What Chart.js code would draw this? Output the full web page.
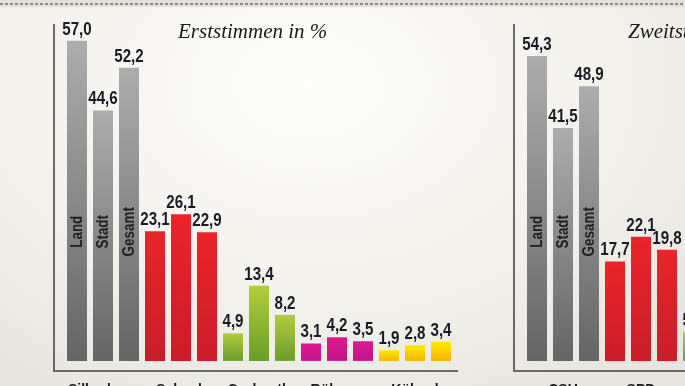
<!DOCTYPE html>
<html>
<head>
<meta charset="utf-8">
<script src="https://cdn.jsdelivr.net/npm/chart.js@4/dist/chart.umd.min.js"></script>
<style>
  html, body { margin: 0; padding: 0; width: 685px; height: 386px; overflow: hidden; }
  body {
    position: relative;
    background: radial-gradient(ellipse 75% 95% at 45% 22%, #fdfdfb 0%, #f3f2ed 55%, #e6e5de 100%);
  }
  #strip {
    position: absolute; left: 0; top: 0; width: 685px; height: 7px;
    background: #e2e0d8;
  }
  #strip div {
    position: absolute; left: 0; top: 3px; width: 685px; height: 2px;
    background: repeating-linear-gradient(90deg, #8d8c86 0 3px, transparent 3px 5px);
  }
  .box { position: absolute; top: 0; width: 470px; height: 400px; }
</style>
</head>
<body>
<div id="strip"><div></div></div>
<div class="box" style="left:0"><canvas id="erstChart"></canvas></div>
<div class="box" style="left:460px"><canvas id="zweitChart"></canvas></div>

<script>
const candidates = ["Silberhorn", "Schenk", "Grubenth", "Rühmer", "Kühnel"];
const parties = ["CSU", "SPD", "Grüne", "Linke", "FDP"];
const areas = ["Land", "Stadt", "Gesamt"];

const erstLand = [57.0, 23.1, 4.9, 3.1, 1.9];
const erstStadt = [44.6, 26.1, 13.4, 4.2, 2.8];
const erstGesamt = [52.2, 22.9, 8.2, 3.5, 3.4];

// right chart is cut off by the picture edge, unreadable values left empty
const zweitLand = [54.3, 17.7, 5.2, null, null];
const zweitStadt = [41.5, 22.1, null, null, null];
const zweitGesamt = [48.9, 19.8, null, null, null];

const partyColors = [
  ["#adadad", "#656565"],
  ["#ea242a", "#c91d29"],
  ["#b2cd3d", "#699d2b"],
  ["#dd1a92", "#c21488"],
  ["#ffe900", "#f6b300"],
];

const sans = "'Liberation Sans', Arial, sans-serif";

function barFill(c) {
  const colors = partyColors[c.dataIndex] || partyColors[0];
  const chart = c.chart;
  const y = chart.scales && chart.scales.y;
  if (c.raw == null || !y || !isFinite(y.getPixelForValue(0))) return colors[0];
  const top = y.getPixelForValue(c.raw);
  const base = y.getPixelForValue(0);
  const g = chart.ctx.createLinearGradient(0, top, 0, base);
  g.addColorStop(0, colors[0]);
  g.addColorStop(1, colors[1]);
  return g;
}

// condensed text: plain bold sans squeezed horizontally
function narrowText(ctx, text, x, y, squeeze) {
  ctx.save();
  ctx.translate(x, y);
  ctx.scale(squeeze, 1);
  ctx.fillText(text, 0, 0);
  ctx.restore();
}

const decorPlugin = {
  id: "decor",
  afterDraw(chart, args, opts) {
    const ctx = chart.ctx;
    const area = chart.chartArea;
    ctx.save();

    // axis lines
    ctx.strokeStyle = "#3c3c3c";
    ctx.lineWidth = 1.5;
    ctx.beginPath();
    ctx.moveTo(area.left - 10, area.top);
    ctx.lineTo(area.left - 10, area.bottom + 1);
    ctx.stroke();
    ctx.strokeStyle = "#6a6a66";
    ctx.lineWidth = 2;
    ctx.beginPath();
    ctx.moveTo(area.left - 10, area.bottom);
    ctx.lineTo(area.right + 4, area.bottom);
    ctx.stroke();

    // title
    ctx.fillStyle = "#1a1a1a";
    ctx.font = "italic 21px 'Liberation Serif', 'DejaVu Serif', serif";
    ctx.textAlign = "left";
    ctx.textBaseline = "alphabetic";
    ctx.fillText(opts.title, opts.titleX, 38);

    // value labels
    ctx.font = "bold 18px " + sans;
    ctx.textAlign = "center";
    ctx.textBaseline = "bottom";
    ctx.fillStyle = "#1b1b26";
    chart.data.datasets.forEach((ds, i) => {
      const meta = chart.getDatasetMeta(i);
      meta.data.forEach((el, j) => {
        const v = ds.data[j];
        if (v == null) return;
        narrowText(ctx, v.toFixed(1).replace(".", ","), el.x, el.y - 2, 0.84);
      });
    });

    // area names inside the first group
    const yMid = chart.scales.y.getPixelForValue(23);
    ctx.font = "bold 16px " + sans;
    ctx.fillStyle = "#202020";
    ctx.textBaseline = "middle";
    chart.data.datasets.forEach((ds, i) => {
      const el = chart.getDatasetMeta(i).data[0];
      ctx.save();
      ctx.translate(el.x, yMid);
      ctx.rotate(-Math.PI / 2);
      narrowText(ctx, ds.label, 0, 1, 0.84);
      ctx.restore();
    });

    ctx.restore();
  },
};

function makeChart(id, labels, land, stadt, gesamt, title, titleX) {
  const ctx = document.getElementById(id).getContext("2d");
  const barOpts = { backgroundColor: barFill, borderWidth: 0, categoryPercentage: 1.0, barPercentage: 20 / 26 };
  return new Chart(ctx, {
    type: "bar",
    data: {
      labels: labels,
      datasets: [
        Object.assign({ label: areas[0], data: land }, barOpts),
        Object.assign({ label: areas[1], data: stadt }, barOpts),
        Object.assign({ label: areas[2], data: gesamt }, barOpts),
      ],
    },
    options: {
      responsive: false,
      animation: false,
      maintainAspectRatio: false,
      layout: { padding: { left: 64, right: 16, top: 24, bottom: 0 } },
      plugins: {
        colors: { enabled: false },
        legend: { display: false },
        tooltip: { enabled: false },
        decor: { title: title, titleX: titleX },
      },
      scales: {
        x: {
          grid: { display: false, drawTicks: false },
          border: { display: false },
          afterFit: (scale) => { scale.height = 29; },
          ticks: {
            autoSkip: false,
            maxRotation: 0,
            padding: 11,
            color: "#1b1b1b",
            font: { family: sans, size: 14, weight: "bold" },
          },
        },
        y: {
          display: false,
          min: -1.8,
          max: 60,
        },
      },
    },
    plugins: [decorPlugin],
  });
}

const c1 = document.getElementById("erstChart");
c1.width = 470; c1.height = 400;
const c2 = document.getElementById("zweitChart");
c2.width = 470; c2.height = 400;

makeChart("erstChart", candidates, erstLand, erstStadt, erstGesamt, "Erststimmen in %", 178);
makeChart("zweitChart", parties, zweitLand, zweitStadt, zweitGesamt, "Zweitstimmen in %", 168);
</script>
</body>
</html>
